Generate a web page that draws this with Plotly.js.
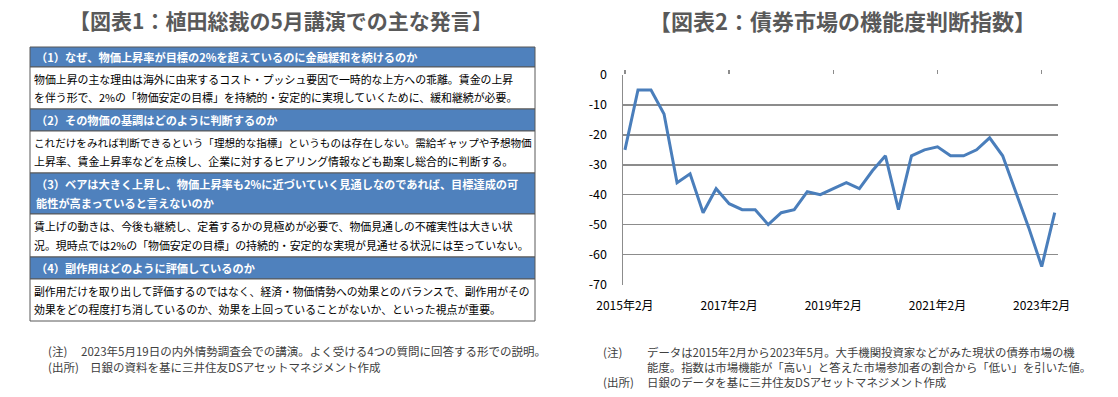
<!DOCTYPE html>
<html>
<head>
<meta charset="utf-8">
<script src="https://cdn.plot.ly/plotly-3.0.1.min.js"></script>
<style>html,body{margin:0;padding:0;background:#fff;}#chart{width:1118px;height:397px;}</style>
</head>
<body>
<div id="chart"></div>
<script>
// ---- Data: 債券市場の機能度判断指数 (quarterly) ----
const periods = [
  "2015年2月","2015年5月","2015年8月","2015年11月",
  "2016年2月","2016年5月","2016年8月","2016年11月",
  "2017年2月","2017年5月","2017年8月","2017年11月",
  "2018年2月","2018年5月","2018年8月","2018年11月",
  "2019年2月","2019年5月","2019年8月","2019年11月",
  "2020年2月","2020年5月","2020年8月","2020年11月",
  "2021年2月","2021年5月","2021年8月","2021年11月",
  "2022年2月","2022年5月","2022年8月","2022年11月",
  "2023年2月","2023年5月"
];
const indexValues = [
  -25, -5, -5, -13,
  -36, -33, -46, -38,
  -43, -45, -45, -50,
  -46, -45, -39, -40,
  -38, -36, -38, -32,
  -27, -45, -27, -25,
  -24, -27, -27, -25,
  -21, -27, -39, -51,
  -64, -46
];
const xTickLabels = ["2015年2月","2017年2月","2019年2月","2021年2月","2023年2月"];
const yTickValues = [0, -10, -20, -30, -40, -50, -60, -70];

// ---- Table text (図表1) ----
const questions = [
  ["（1）なぜ、物価上昇率が目標の2%を超えているのに金融緩和を続けるのか"],
  ["（2）その物価の基調はどのように判断するのか"],
  ["（3）ベアは大きく上昇し、物価上昇率も2%に近づいていく見通しなのであれば、目標達成の可", "能性が高まっていると言えないのか"],
  ["（4）副作用はどのように評価しているのか"]
];
const answers = [
  ["物価上昇の主な理由は海外に由来するコスト・プッシュ要因で一時的な上方への乖離。賃金の上昇", "を伴う形で、2%の「物価安定の目標」を持続的・安定的に実現していくために、緩和継続が必要。"],
  ["これだけをみれば判断できるという「理想的な指標」というものは存在しない。需給ギャップや予想物価", "上昇率、賃金上昇率などを点検し、企業に対するヒアリング情報なども勘案し総合的に判断する。"],
  ["賃上げの動きは、今後も継続し、定着するかの見極めが必要で、物価見通しの不確実性は大きい状", "況。現時点では2%の「物価安定の目標」の持続的・安定的な実現が見通せる状況には至っていない。"],
  ["副作用だけを取り出して評価するのではなく、経済・物価情勢への効果とのバランスで、副作用がその", "効果をどの程度打ち消しているのか、効果を上回っていることがないか、といった視点が重要。"]
];
const title1 = "【図表1：植田総裁の5月講演での主な発言】";
const title2 = "【図表2：債券市場の機能度判断指数】";
const notes1 = [["(注)", "2023年5月19日の内外情勢調査会での講演。よく受ける4つの質問に回答する形での説明。"], ["(出所)", "日銀の資料を基に三井住友DSアセットマネジメント作成"]];
const notes2 = [["(注)", "データは2015年2月から2023年5月。大手機関投資家などがみた現状の債券市場の機"], ["", "能度。指数は市場機能が「高い」と答えた市場参加者の割合から「低い」を引いた値。"], ["(出所)", "日銀のデータを基に三井住友DSアセットマネジメント作成"]];

// ---- Layout helpers ----
const W = 1118, H = 397;
const fx = x => x / W;
const fy = y => 1 - y / H;
const FONT = '"Noto Sans CJK JP", "Noto Sans", sans-serif';

// fit a line's font size so it stays inside the table cell
const ctx = document.createElement('canvas').getContext('2d');
function fitSize(text, base, maxW, bold) {
  ctx.font = (bold ? 'bold ' : '') + base + 'px ' + FONT;
  const w = ctx.measureText(text).width;
  return w > maxW ? Math.floor(base * maxW / w * 10) / 10 : base;
}

const shapes = [];
const annotations = [];

// titles
annotations.push({text: "<b>" + title1 + "</b>", x: fx(281), y: fy(20), xref: 'paper', yref: 'paper', xanchor: 'center', yanchor: 'middle', showarrow: false, font: {family: FONT, size: 21, color: '#595959'}});
annotations.push({text: "<b>" + title2 + "</b>", x: fx(842), y: fy(20), xref: 'paper', yref: 'paper', xanchor: 'center', yanchor: 'middle', showarrow: false, font: {family: FONT, size: 22, color: '#595959'}});

// table geometry
const tL = 30, tR = 535;
const rowsY = [ [47, 67, 109], [109, 131, 173], [173, 214, 257], [257, 279, 321] ];
const lineH = 18.5;
rowsY.forEach((r, i) => {
  const [top, mid, bot] = r;
  shapes.push({type: 'rect', xref: 'paper', yref: 'paper', x0: fx(tL), x1: fx(tR), y0: fy(top), y1: fy(mid), fillcolor: '#4F81BD', line: {color: '#595959', width: 1}, layer: 'below'});
  shapes.push({type: 'rect', xref: 'paper', yref: 'paper', x0: fx(tL), x1: fx(tR), y0: fy(mid), y1: fy(bot), fillcolor: '#FFFFFF', line: {color: '#595959', width: 1}, layer: 'below'});
  const q = questions[i];
  const qc = (top + mid) / 2;
  q.forEach((t, k) => {
    const yy = qc + (k - (q.length - 1) / 2) * lineH;
    annotations.push({text: "<b>" + t + "</b>", x: fx(34), y: fy(yy), xref: 'paper', yref: 'paper', xanchor: 'left', yanchor: 'middle', showarrow: false, font: {family: FONT, size: fitSize(t, 11.2, 496, true), color: '#FFFFFF'}});
  });
  const a = answers[i];
  const ac = (mid + bot) / 2;
  a.forEach((t, k) => {
    const yy = ac + (k - (a.length - 1) / 2) * lineH;
    annotations.push({text: t, x: fx(32), y: fy(yy), xref: 'paper', yref: 'paper', xanchor: 'left', yanchor: 'middle', showarrow: false, font: {family: FONT, size: fitSize(t, 10.9, 498, false), color: '#000000'}});
  });
});

// notes
notes1.forEach((n, k) => {
  const yy = 351 + k * 15.5;
  annotations.push({text: n[0], x: fx(46), y: fy(yy), xref: 'paper', yref: 'paper', xanchor: 'left', yanchor: 'middle', showarrow: false, font: {family: FONT, size: 11.5, color: '#404040'}});
  annotations.push({text: n[1], x: fx(k === 0 ? 79 : 88), y: fy(yy), xref: 'paper', yref: 'paper', xanchor: 'left', yanchor: 'middle', showarrow: false, font: {family: FONT, size: 11.5, color: '#404040'}});
});
notes2.forEach((n, k) => {
  const yy = 352 + k * 15;
  if (n[0]) annotations.push({text: n[0], x: fx(601), y: fy(yy), xref: 'paper', yref: 'paper', xanchor: 'left', yanchor: 'middle', showarrow: false, font: {family: FONT, size: 11.5, color: '#404040'}});
  annotations.push({text: n[1], x: fx(645), y: fy(yy), xref: 'paper', yref: 'paper', xanchor: 'left', yanchor: 'middle', showarrow: false, font: {family: FONT, size: 11.4, color: '#404040'}});
});

// ---- Chart ----
const plotL = 623, plotR = 1058, plotT = 75, plotB = 284.5;
const traces = [
  {x: periods, y: indexValues, type: 'scatter', mode: 'lines', line: {color: '#4A7EBB', width: 3}, hoverinfo: 'skip', xaxis: 'x', yaxis: 'y'},
  {x: periods, y: indexValues, type: 'scatter', mode: 'lines', line: {color: 'rgba(0,0,0,0)', width: 0}, hoverinfo: 'skip', xaxis: 'x2', yaxis: 'y'}
];
const xr = [-0.15, 33.25];
const layout = {
  width: W, height: H,
  margin: {l: 0, r: 0, t: 0, b: 0},
  paper_bgcolor: '#FFFFFF', plot_bgcolor: '#FFFFFF',
  showlegend: false,
  font: {family: FONT, color: '#000000'},
  xaxis: {
    domain: [fx(plotL), fx(plotR)], anchor: 'y', type: 'category',
    categoryorder: 'array', categoryarray: periods,
    range: xr, tickvals: xTickLabels, ticktext: xTickLabels,
    showgrid: false, zeroline: false, showline: false, ticks: '',
    ticklabelstandoff: 12,
    tickfont: {family: FONT, size: 12, color: '#000000'}
  },
  xaxis2: {
    domain: [fx(plotL), fx(plotR)], anchor: 'y', overlaying: 'x', side: 'top', type: 'category',
    categoryorder: 'array', categoryarray: periods,
    range: xr, tickvals: xTickLabels, showticklabels: false,
    showgrid: false, zeroline: false, showline: false,
    ticks: 'outside', ticklen: 4, tickwidth: 1.5, tickcolor: '#8C8C8C'
  },
  yaxis: {
    domain: [fy(plotB), fy(plotT)], anchor: 'x',
    range: [-70, 0], tickvals: yTickValues, ticktext: yTickValues.map(String),
    showgrid: true, gridcolor: '#8C8C8C', gridwidth: 1.5,
    zeroline: false, showline: true, linecolor: '#8C8C8C', linewidth: 1.5,
    ticks: '', ticklabelstandoff: 12,
    tickfont: {family: FONT, size: 12.5, color: '#000000'}
  },
  shapes: shapes,
  annotations: annotations
};
Plotly.newPlot('chart', traces, layout, {displayModeBar: false, staticPlot: true});
</script>
</body>
</html>
